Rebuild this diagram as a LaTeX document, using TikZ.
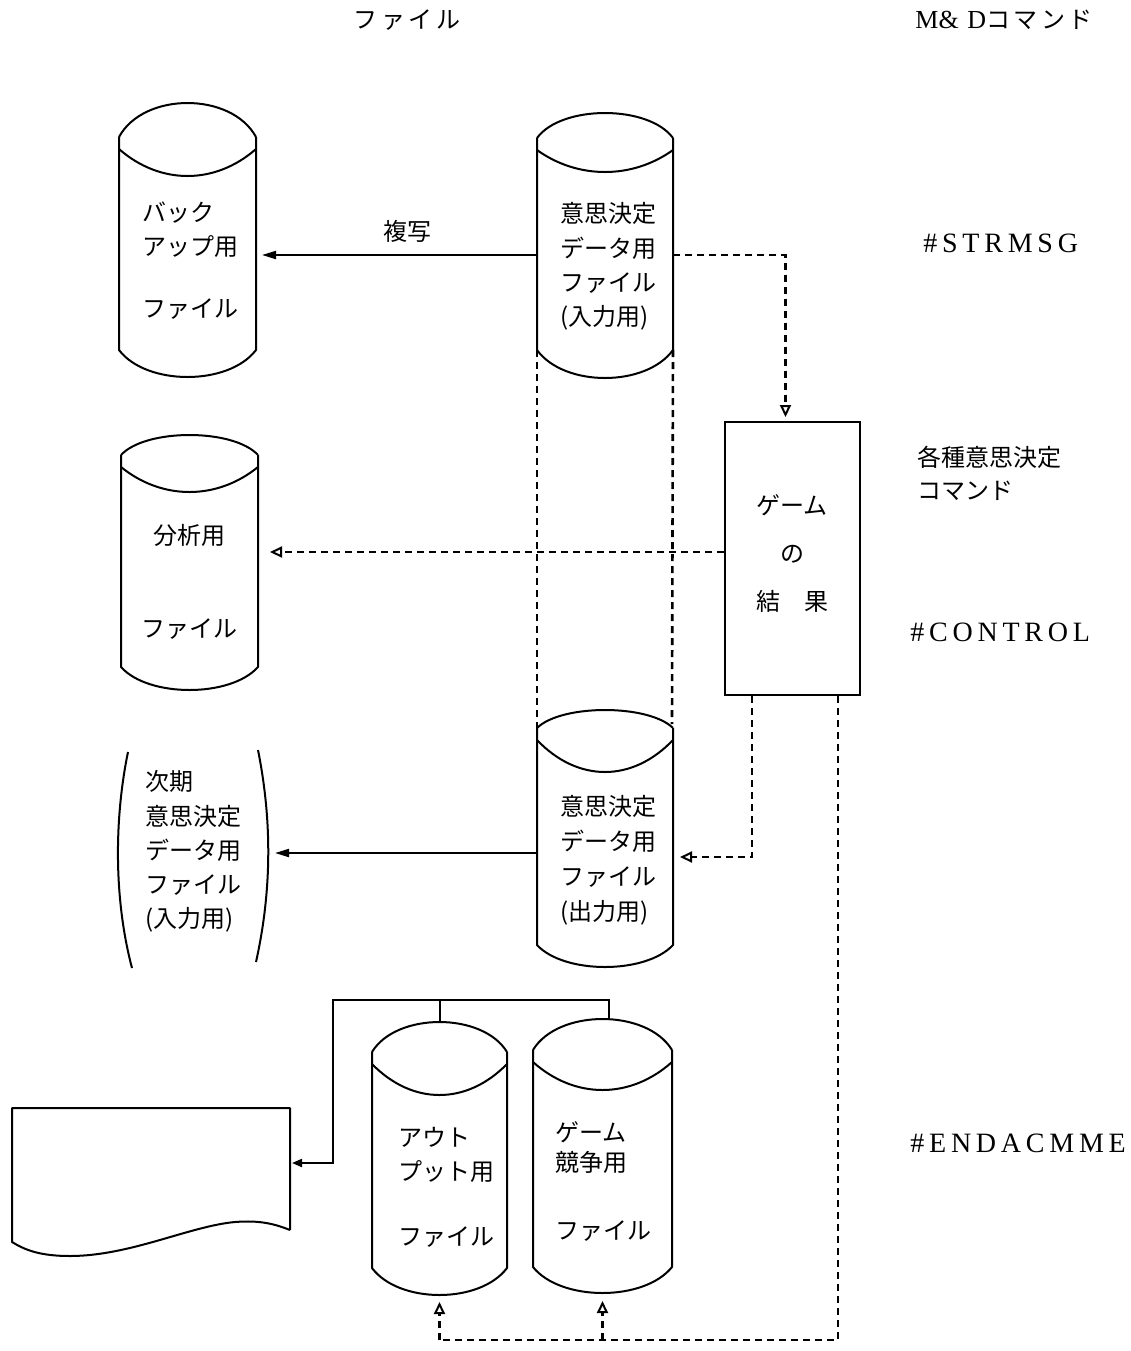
\documentclass[tikz,border=0pt]{standalone}
\usepackage{fontspec}
\usetikzlibrary{arrows.meta}
\newfontfamily\cjk{Noto Sans CJK JP}
\newfontfamily\cjkw[LetterSpace=15]{Noto Sans CJK JP}
\newfontfamily\lats[LetterSpace=17]{Liberation Serif}
\newfontfamily\latn{Liberation Serif}
\newcommand\drawcyl[8]{%
  \pgfmathsetmacro\cylW{#3-#2}%
  \pgfmathsetmacro\cylA{(4*#4-#5)/3}%
  \pgfmathsetmacro\cylS{#5+12}%
  \pgfmathsetmacro\cylB{(4*#6-\cylS)/3}%
  \pgfmathsetmacro\cylC{(4*#8-#7)/3}%
  \draw[cylline] (#2,#5) .. controls ({#2+0.18*\cylW},\cylA) and ({#3-0.18*\cylW},\cylA) .. (#3,#5);
  \draw[cylline] (#2,\cylS) .. controls ({#2+0.3*\cylW},\cylB) and ({#3-0.3*\cylW},\cylB) .. (#3,\cylS);
  \draw[cylline] (#3,#5) -- (#3,#7) .. controls ({#3-0.2*\cylW},\cylC) and ({#2+0.2*\cylW},\cylC) .. (#2,#7) -- (#2,#5);
  \node[cylbody, minimum width={\cylW*0.5pt}, minimum height={(#8-#4)*0.5pt}] (#1) at ({(#2+#3)/2},{(#4+#8)/2}) {};
}
\begin{document}
\begin{tikzpicture}[x=0.5pt,y=-0.5pt,
  cylline/.style={line width=1pt, line join=round},
  cylbody/.style={inner sep=0pt, outer sep=0pt},
  jp/.style={font=\cjk\fontsize{12}{17}\selectfont, inner sep=0pt, align=left},
  lab/.style={font=\lats\fontsize{14}{17}\selectfont, inner sep=0pt, anchor=west},
  solidarrow/.style={line width=1pt, -{Triangle[length=7pt, width=4pt]}},
  solidline/.style={line width=1pt},
  dashline/.style={line width=1.3pt, dash pattern=on 3.5pt off 2.5pt},
  dasharrow/.style={dashline, -{Triangle[open, length=6pt, width=5.5pt, line width=1pt]}}]
\useasboundingbox (0,0) rectangle (1131,1351);

% headers
\node[font=\cjkw\fontsize{12}{14}\selectfont, inner sep=0pt] (hfile) at (407,20) {ファイル};
\node[inner sep=0pt, anchor=west] (hcmd) at (915,20) {{\latn\fontsize{13}{15}\selectfont M\&\,\,D}{\cjkw\fontsize{12}{14}\selectfont コマンド}};

% cylinders
\drawcyl{c1}{119}{256}{103}{137}{176}{350}{377}
\drawcyl{c2}{537}{673}{113}{138}{172}{350}{378}
\drawcyl{c3}{121}{258}{435}{455}{492}{667}{690}
\drawcyl{c4}{537}{673}{710}{728}{772}{945}{967}
\drawcyl{c5}{372}{507}{1022}{1052}{1095}{1268}{1295}
\drawcyl{c6}{533}{672}{1019}{1050}{1090}{1267}{1293}

\node[jp, anchor=west] (t1) at (142,261) {バック\\アップ用\\[14pt]ファイル};
\node[jp, anchor=west, font=\cjk\fontsize{12}{17.2}\selectfont] (t2) at (560,266.5) {意思決定\\データ用\\ファイル\\(入力用)};
\node[jp, align=center] (t3) at (189,581.5) {分析用\\[29.5pt]ファイル};
\node[jp, anchor=west, font=\cjk\fontsize{12}{17.5}\selectfont] (t4) at (560,860.5) {意思決定\\データ用\\ファイル\\(出力用)};
\node[jp, anchor=west] (t5) at (398,1187) {アウト\\プット用\\[15.5pt]ファイル};
\node[jp, anchor=west] (t6) at (555,1181) {ゲーム\\[-2pt]競争用\\[17pt]ファイル};

% game result box
\node[draw, line width=1pt, minimum width=67.5pt, minimum height=136.5pt, inner sep=0pt] (game) at (792.5,558.5) {};
\node[jp, align=center, font=\cjk\fontsize{12}{24}\selectfont] (tg) at (792,553.5) {ゲーム\\の\\結　果};

% next period bracket file
\node[cylbody, minimum width=74.5pt, minimum height=108pt] (next) at (192.5,858) {};
\draw[cylline] (128,752) .. controls (114,820) and (114,900) .. (132,968);
\draw[cylline] (258,750) .. controls (272,820) and (272,890) .. (256,962);
\node[jp, anchor=west, font=\cjk\fontsize{12}{17.1}\selectfont] (tn) at (145,851.5) {次期\\意思決定\\データ用\\ファイル\\(入力用)};

% document shape
\node[cylbody, minimum width=139pt, minimum height=61pt] (doc) at (151,1169) {};
\draw[cylline] (290,1230) -- (290,1108) -- (12,1108) -- (12,1242)
  .. controls (25,1250) and (40,1256) .. (70,1256)
  .. controls (130,1256) and (190,1226) .. (235,1222)
  .. controls (260,1220) and (275,1224) .. (290,1230);

% right labels
\node[lab] (strmsg) at (923,243) {\#STRMSG};
\node[jp, anchor=west, font=\cjk\fontsize{12}{16.5}\selectfont] (kakushu) at (917,473.5) {各種意思決定\\コマンド};
\node[lab] (control) at (910,632) {\#CONTROL};
\node[lab] (endac) at (910,1143) {\#ENDACMME};

% connectors
\draw[solidarrow] (c2.west |- 0,255) -- node[jp, pos=0.47, above=6pt] (fukusha) {複写} ([xshift=3pt]c1.east |- 0,255);
\draw[dasharrow] (c2.east |- 0,255) -| ([xshift=-3.5pt, yshift=2pt]game.north);
\draw[dashline] (c2.west |- 0,350) -- (c4.west |- 0,728);
\draw[dashline] (c2.east |- 0,350) -- ([xshift=-0.5pt]c4.east |- 0,724);
\draw[dasharrow] (game.west |- 0,552) -- ([xshift=6pt]c3.east |- 0,552);
\draw[dasharrow] (game.south -| 752,0) |- ([xshift=3.5pt]c4.east |- 0,857);
\draw[solidarrow] (c4.west |- 0,853) -- ([xshift=4pt]next.east |- 0,853);
\draw[dashline] (game.south -| 838,0) |- (c5.south |- 0,1340);
\draw[dasharrow] (c5.south |- 0,1340) -- ([yshift=-3.5pt]c5.south);
\draw[dasharrow] (c6.south |- 0,1340) -- ([yshift=-4pt]c6.south);
\coordinate (jl) at (333,1000);
\draw[solidline, -{Triangle[length=5pt, width=4pt]}] ([xshift=3pt]c6.north) -- ([xshift=3pt]c6.north |- jl) -- (jl) |- ([xshift=1pt]doc.east |- 0,1163);
\draw[solidline] (c5.north) -- (c5.north |- jl);
\end{tikzpicture}
\end{document}
